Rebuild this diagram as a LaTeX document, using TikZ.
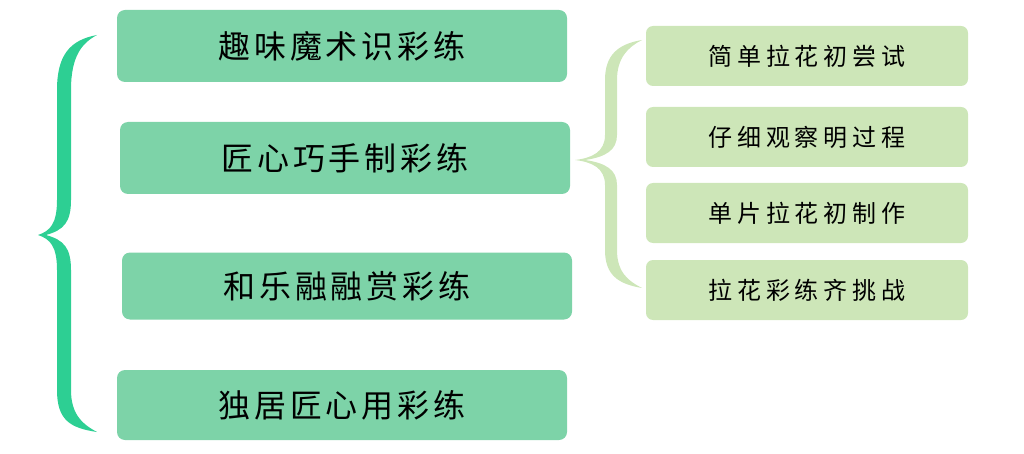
\documentclass[tikz,border=0pt]{standalone}
\usepackage{fontspec}
\newfontfamily\cjk{Noto Sans CJK SC}
\newfontfamily\cjkw[LetterSpace=12]{Noto Sans CJK SC}
\newfontfamily\cjkr[LetterSpace=20]{Noto Sans CJK SC}
\definecolor{bigc}{HTML}{7DD3A8}
\definecolor{smallc}{HTML}{CDE6B8}
\definecolor{brA}{HTML}{2DCF93}
\definecolor{brB}{HTML}{CDE6B8}
\begin{document}
\begin{tikzpicture}[x=1pt,y=-1pt,
  big/.style={fill=bigc,rounded corners=8pt,minimum width=450pt,minimum height=72pt,font=\cjkw\fontsize{32}{36}\selectfont},
  small/.style={fill=smallc,rounded corners=7pt,minimum width=322pt,minimum height=60pt,font=\cjkr\fontsize{24}{28}\selectfont}]
\useasboundingbox (0,0) rectangle (1024,454);
\node[big] (a) at (342,46) {趣味魔术识彩练};
\node[big] (b) at (345,158) {匠心巧手制彩练};
\node[big,minimum height=67pt] (c) at (347,286) {和乐融融赏彩练};
\node[big,minimum height=70pt] (d) at (342,405) {独居匠心用彩练};
\node[small] (e) at (807,56) {简单拉花初尝试};
\node[small] (f) at (807,137) {仔细观察明过程};
\node[small] (g) at (807,213) {单片拉花初制作};
\node[small] (h) at (807,290) {拉花彩练齐挑战};
% left brace
\fill[brA] (97,35) .. controls (70,40) and (57,55) .. (57,90) -- (57,200) .. controls (57,224) and (50,231) .. (38,235) .. controls (50,239) and (57,246) .. (57,270) -- (57,390) .. controls (57,420) and (70,428) .. (97,432)
 .. controls (82,424) and (71,414) .. (71,390) -- (71,270) .. controls (71,248) and (64,240) .. (46,235) .. controls (64,230) and (71,222) .. (71,200) -- (71,90) .. controls (71,56) and (82,43) .. (97,35) -- cycle;
% right brace
\fill[brB] (642,40) .. controls (618,44) and (605,55) .. (605,80) -- (605,135) .. controls (605,152) and (592,158) .. (575,160) .. controls (592,162) and (605,168) .. (605,185) -- (605,250) .. controls (605,275) and (618,284) .. (642,288)
 .. controls (628,281) and (617,272) .. (617,250) -- (617,185) .. controls (617,170) and (606,163) .. (585,160) .. controls (606,157) and (617,150) .. (617,135) -- (617,80) .. controls (617,58) and (628,47) .. (642,40) -- cycle;
\end{tikzpicture}
\end{document}
